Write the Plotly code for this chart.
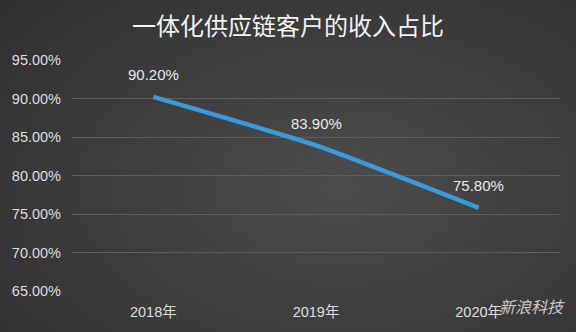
import plotly.graph_objects as go

categories = ["2018年", "2019年", "2020年"]
values = [90.20, 83.90, 75.80]
labels = ["90.20%", "83.90%", "75.80%"]
ytick_vals = [65, 70, 75, 80, 85, 90, 95]
ytick_text = ["65.00%", "70.00%", "75.00%", "80.00%", "85.00%", "90.00%", "95.00%"]

fig = go.Figure()
fig.add_trace(go.Scatter(
    x=categories, y=values, mode="lines",
    line=dict(color="#3a9ad9", width=4.5, shape="spline", smoothing=0.5),
    hoverinfo="skip",
))

# vignette-like background
shapes = []
n = 30
for i in range(n):
    f = 1 - i / n
    shapes.append(dict(type="circle", xref="paper", yref="paper", layer="below",
                       x0=0.55 - 0.95 * f, x1=0.55 + 0.95 * f,
                       y0=0.45 - 1.25 * f, y1=0.45 + 1.25 * f,
                       line=dict(width=0), fillcolor="rgba(255,255,255,0.0075)"))

annotations = [dict(x=c, y=v, text=t, showarrow=False, yshift=22, xanchor="center", yanchor="middle",
                    font=dict(size=15, color="#e8e8e8", family="Liberation Sans, Arial, sans-serif"))
               for c, v, t in zip(categories, values, labels)]
annotations.append(dict(text="<i>新浪科技</i>", x=1.014, y=-0.064, xref="paper", yref="paper",
                        xanchor="right", yanchor="middle", showarrow=False,
                        font=dict(size=16, color="rgba(225,225,225,0.85)", family="Noto Sans CJK SC")))

fig.update_layout(
    width=576, height=332,
    margin=dict(l=72, r=16, t=60, b=37),
    paper_bgcolor="#2e2e2e", plot_bgcolor="rgba(0,0,0,0)",
    showlegend=False,
    shapes=shapes,
    title=dict(text="一体化供应链客户的收入占比", x=0.5, xanchor="center", y=0.92, yanchor="middle",
               font=dict(size=24, color="#f2f2f2", family="Noto Sans CJK SC")),
    xaxis=dict(type="category", range=[-0.5, 2.5], showgrid=False, showline=False, zeroline=False,
               ticks="", tickfont=dict(size=14.5, color="#dddddd", family="Liberation Sans, Noto Sans CJK SC"),
               ticklabelstandoff=10),
    yaxis=dict(range=[65, 95], tickvals=ytick_vals, ticktext=ytick_text,
               showgrid=True, gridcolor="#5e5e5e", gridwidth=1, zeroline=False, showline=False,
               tickfont=dict(size=14.5, color="#dddddd", family="Liberation Sans, Arial, sans-serif"),
               ticklabelstandoff=10),
    annotations=annotations,
)

fig.write_html("out.html")
